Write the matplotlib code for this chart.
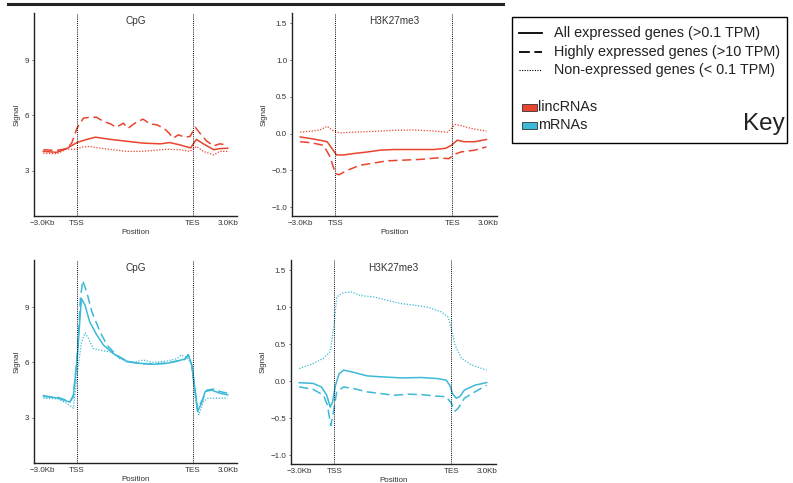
import numpy as np
import matplotlib
matplotlib.use('Agg')
import matplotlib.pyplot as plt
from matplotlib.lines import Line2D
from matplotlib.patches import Patch, Rectangle

plt.rcParams['font.family'] = ['Liberation Sans', 'DejaVu Sans']

# x axis: 0 = -3.0Kb, 3 = TSS, 13 = TES, 16 = +3.0Kb (gene body scaled)
TICKS = [0, 3, 13, 16]
TICK_LABELS = ['\u22123.0Kb', 'TSS', 'TES', '3.0Kb']

# --- lincRNAs, CpG ---
linc_cpg_all_x = [0.1, 1.26, 2.1, 3.0, 3.85, 4.6, 5.9, 7.3, 8.7, 10.2, 11.0, 11.9, 12.8, 13.3, 13.9, 14.8, 15.3, 16.0]
linc_cpg_all_y = [4.05, 4.0, 4.2, 4.53, 4.7, 4.82, 4.7, 4.6, 4.5, 4.46, 4.53, 4.4, 4.24, 4.7, 4.46, 4.14, 4.2, 4.22]
linc_cpg_high_x = [0.1, 1.26, 2.1, 2.55, 3.0, 3.56, 4.1, 4.7, 5.3, 5.9, 6.4, 7.0, 7.4, 8.0, 8.7, 9.3, 9.9, 10.5, 10.9, 11.3, 11.75, 12.3, 12.75, 13.2, 13.6, 14.2, 14.8, 15.3, 16.0]
linc_cpg_high_y = [4.14, 4.1, 4.2, 4.5, 5.3, 5.85, 5.9, 5.9, 5.67, 5.54, 5.36, 5.58, 5.3, 5.58, 5.8, 5.54, 5.49, 5.3, 5.07, 4.77, 4.95, 4.82, 4.86, 5.36, 5.04, 4.6, 4.35, 4.46, 4.4]
linc_cpg_non_x = [0.1, 1.26, 2.1, 3.0, 3.4, 4.1, 5.0, 6.15, 7.3, 8.45, 9.6, 10.75, 11.9, 12.75, 13.3, 13.9, 14.8, 15.3, 16.0]
linc_cpg_non_y = [3.95, 3.92, 4.17, 4.17, 4.28, 4.32, 4.22, 4.14, 4.05, 4.05, 4.1, 4.17, 4.14, 4.05, 4.32, 4.05, 3.86, 4.05, 4.05]

# --- lincRNAs, H3K27me3 ---
linc_k27_all_x = [0.0, 1.0, 1.7, 2.3, 2.7, 3.1, 3.7, 4.6, 5.7, 6.85, 8.0, 9.7, 11.4, 12.4, 12.9, 13.4, 14.0, 14.9, 15.9]
linc_k27_all_y = [-0.045, -0.07, -0.09, -0.11, -0.2, -0.29, -0.29, -0.27, -0.25, -0.225, -0.216, -0.216, -0.216, -0.2, -0.16, -0.09, -0.11, -0.11, -0.08]
linc_k27_high_x = [0.0, 1.0, 2.0, 2.55, 3.0, 3.3, 4.0, 5.1, 6.3, 7.4, 8.9, 10.3, 11.7, 12.7, 13.2, 13.7, 14.9, 15.9]
linc_k27_high_y = [-0.11, -0.125, -0.16, -0.315, -0.54, -0.56, -0.5, -0.43, -0.4, -0.37, -0.36, -0.35, -0.33, -0.34, -0.28, -0.25, -0.225, -0.18]
linc_k27_non_x = [0.0, 1.0, 1.7, 2.3, 2.85, 3.4, 4.6, 6.3, 8.0, 9.7, 11.4, 12.6, 13.2, 13.7, 14.6, 15.9]
linc_k27_non_y = [0.02, 0.035, 0.05, 0.1, 0.035, 0.01, 0.02, 0.03, 0.045, 0.05, 0.035, 0.02, 0.125, 0.11, 0.07, 0.035]

# --- mRNAs, CpG ---
mrna_cpg_all_x = [0.1, 1.0, 1.4, 1.8, 2.4, 2.7, 3.05, 3.3, 3.4, 3.7, 4.1, 4.7, 5.3, 6.15, 7.3, 8.45, 9.6, 10.75, 11.6, 12.3, 12.6, 12.9, 13.2, 13.4, 13.8, 14.05, 14.6, 15.35, 16.0]
mrna_cpg_all_y = [4.2, 4.1, 4.06, 3.97, 3.85, 4.24, 6.4, 8.73, 9.45, 9.1, 8.2, 7.5, 6.93, 6.48, 6.04, 5.95, 5.9, 5.95, 6.07, 6.18, 6.43, 5.86, 4.42, 3.34, 3.88, 4.42, 4.5, 4.33, 4.24]
mrna_cpg_high_x = [0.1, 1.4, 2.4, 2.7, 3.05, 3.3, 3.5, 3.85, 4.3, 5.0, 5.6, 6.4, 7.3, 8.45, 9.6, 10.75, 11.6, 12.3, 12.6, 12.9, 13.2, 13.4, 13.8, 14.2, 14.8, 15.35, 16.0]
mrna_cpg_high_y = [4.15, 4.1, 3.88, 4.15, 6.58, 9.45, 10.44, 9.8, 8.73, 7.65, 6.93, 6.4, 6.07, 5.93, 5.93, 5.96, 6.07, 6.16, 6.4, 5.86, 4.42, 3.43, 3.97, 4.5, 4.56, 4.42, 4.33]
mrna_cpg_non_x = [0.1, 1.4, 2.1, 2.7, 3.05, 3.4, 3.7, 4.0, 4.4, 5.0, 5.9, 6.7, 7.9, 8.7, 9.6, 10.75, 11.6, 12.0, 12.5, 12.9, 13.2, 13.5, 13.9, 14.3, 15.35, 16.0]
mrna_cpg_non_y = [4.06, 4.02, 3.79, 3.52, 5.5, 7.11, 7.6, 7.3, 6.75, 6.66, 6.57, 6.2, 6.0, 6.13, 6.0, 6.07, 6.2, 6.4, 6.25, 5.86, 4.06, 3.16, 3.88, 4.06, 4.06, 4.06]

# --- mRNAs, H3K27me3 ---
mrna_k27_all_x = [0.0, 1.2, 1.9, 2.35, 2.65, 2.85, 3.1, 3.4, 3.8, 4.65, 5.8, 6.95, 8.7, 10.4, 11.8, 12.55, 12.85, 13.1, 13.4, 13.7, 14.1, 15.0, 16.0]
mrna_k27_all_y = [-0.02, -0.03, -0.077, -0.19, -0.35, -0.28, -0.054, 0.1, 0.15, 0.12, 0.072, 0.06, 0.045, 0.05, 0.036, 0.014, -0.054, -0.17, -0.23, -0.21, -0.12, -0.054, -0.018]
mrna_k27_high_x = [0.0, 1.2, 2.07, 2.4, 2.7, 2.93, 3.2, 3.8, 4.65, 5.8, 6.95, 8.1, 9.25, 10.4, 11.55, 12.55, 13.0, 13.3, 13.55, 14.1, 15.0, 16.0]
mrna_k27_high_y = [-0.077, -0.11, -0.19, -0.32, -0.6, -0.41, -0.144, -0.077, -0.1, -0.144, -0.167, -0.19, -0.176, -0.18, -0.2, -0.21, -0.3, -0.405, -0.37, -0.23, -0.144, -0.054]
mrna_k27_non_x = [0.0, 1.2, 2.07, 2.65, 3.0, 3.2, 3.65, 4.4, 5.2, 6.4, 7.5, 8.7, 9.8, 11.0, 12.1, 12.7, 13.0, 13.3, 13.85, 14.7, 16.0]
mrna_k27_non_y = [0.17, 0.24, 0.31, 0.4, 0.8, 1.14, 1.19, 1.21, 1.16, 1.14, 1.095, 1.05, 1.03, 1.0, 0.94, 0.87, 0.71, 0.49, 0.31, 0.22, 0.15]

RED = '#e8442e'
CYAN = '#3cb9d6'
W, H = 793, 483


def rect(x0, y0, x1, y1):
    # pixel box -> figure fraction
    return [x0 / W, 1 - y1 / H, (x1 - x0) / W, (y1 - y0) / H]


def panel(fig, box, title, color, curves, ylim, yticks, yfmt):
    ax = fig.add_axes(rect(*box))
    (ax_, ay), (hx, hy), (nx, ny) = curves
    ax.plot(ax_, ay, color=color, lw=1.1, ls='-')
    ax.plot(hx, hy, color=color, lw=1.1, ls=(0, (6, 3)))
    ax.plot(nx, ny, color=color, lw=0.9, ls=(0, (1, 1.3)))
    for t in (3, 13):
        ax.axvline(t, color='black', lw=0.7, ls=(0, (1, 1.2)))
    ax.set_xlim(-0.7, 16.8)
    ax.set_ylim(*ylim)
    ax.set_xticks(TICKS)
    ax.set_xticklabels(TICK_LABELS)
    ax.set_yticks(yticks)
    ax.set_yticklabels([yfmt(v) for v in yticks])
    ax.tick_params(axis='x', length=0, labelsize=5.8, pad=3, colors='#333333')
    ax.tick_params(axis='y', length=1.5, width=0.5, labelsize=5.8, pad=2, colors='#333333')
    for s in ('top', 'right'):
        ax.spines[s].set_visible(False)
    for s in ('left', 'bottom'):
        ax.spines[s].set_linewidth(1.0)
        ax.spines[s].set_color('#222222')
    ax.set_xlabel('Position', fontsize=5.8, labelpad=1, color='#333333')
    ax.set_ylabel('Signal', fontsize=5.8, labelpad=3, color='#333333')
    ax.text(0.5, 0.985, title, transform=ax.transAxes, ha='center', va='top',
            fontsize=7.2, color='#333333')
    return ax


fig = plt.figure(figsize=(W / 100, H / 100), dpi=100)

cpg_lim, cpg_ticks = (0.55, 11.55), [3, 6, 9]
k27_lim, k27_ticks = (-1.12, 1.64), [-1.0, -0.5, 0.0, 0.5, 1.0, 1.5]
ifmt = lambda v: f'{v:g}'
ffmt = lambda v: f'{v:.1f}'.replace('-', '\u2212')

panel(fig, (34, 13, 237, 216), 'CpG', RED,
      [(linc_cpg_all_x, linc_cpg_all_y), (linc_cpg_high_x, linc_cpg_high_y),
       (linc_cpg_non_x, linc_cpg_non_y)], cpg_lim, cpg_ticks, ifmt)
panel(fig, (292, 13, 497, 216), 'H3K27me3', RED,
      [(linc_k27_all_x, linc_k27_all_y), (linc_k27_high_x, linc_k27_high_y),
       (linc_k27_non_x, linc_k27_non_y)], k27_lim, k27_ticks, ffmt)
panel(fig, (34, 260, 237, 463), 'CpG', CYAN,
      [(mrna_cpg_all_x, mrna_cpg_all_y), (mrna_cpg_high_x, mrna_cpg_high_y),
       (mrna_cpg_non_x, mrna_cpg_non_y)], cpg_lim, cpg_ticks, ifmt)
panel(fig, (291, 260, 496, 464), 'H3K27me3', CYAN,
      [(mrna_k27_all_x, mrna_k27_all_y), (mrna_k27_high_x, mrna_k27_high_y),
       (mrna_k27_non_x, mrna_k27_non_y)], k27_lim, k27_ticks, ffmt)

# header rule above the panels
fig.add_artist(Line2D([8 / W, 503 / W], [1 - 3.5 / H] * 2, color='#222222', lw=2.2))

# key box
kx0, ky0, kx1, ky1 = 512, 17, 787, 143
fig.add_artist(Rectangle((kx0 / W, 1 - ky1 / H), (kx1 - kx0) / W, (ky1 - ky0) / H,
                         transform=fig.transFigure, fill=False, ec='black', lw=1.0))
styles = [('-', 'All expressed genes (>0.1 TPM)', 33),
          ((0, (6, 2.5)), 'Highly expressed genes (>10 TPM)', 52),
          ((0, (1, 1.3)), 'Non-expressed genes (< 0.1 TPM)', 70)]
for ls, label, yp in styles:
    lw = 1.3 if ls != styles[2][0] else 0.8
    fig.add_artist(Line2D([519 / W, 542 / W], [1 - yp / H] * 2, color='black', lw=lw, ls=ls))
    fig.text(554 / W, 1 - yp / H, label, fontsize=10.4, va='center', ha='left', color='#222222')
for col, label, yp in [(RED, 'lincRNAs', 107), (CYAN, 'mRNAs', 125)]:
    fig.add_artist(Rectangle((522 / W, 1 - (yp + 3.5) / H), 15 / W, 7 / H,
                             transform=fig.transFigure, fc=col, ec='#333333', lw=0.6))
    fig.text(538 / W, 1 - yp / H, label, fontsize=10.4, va='center', ha='left', color='#222222')
fig.text(785 / W, 1 - 124 / H, 'Key', fontsize=17.5, va='center', ha='right', color='#222222')

fig.savefig('out.png', dpi=100)
